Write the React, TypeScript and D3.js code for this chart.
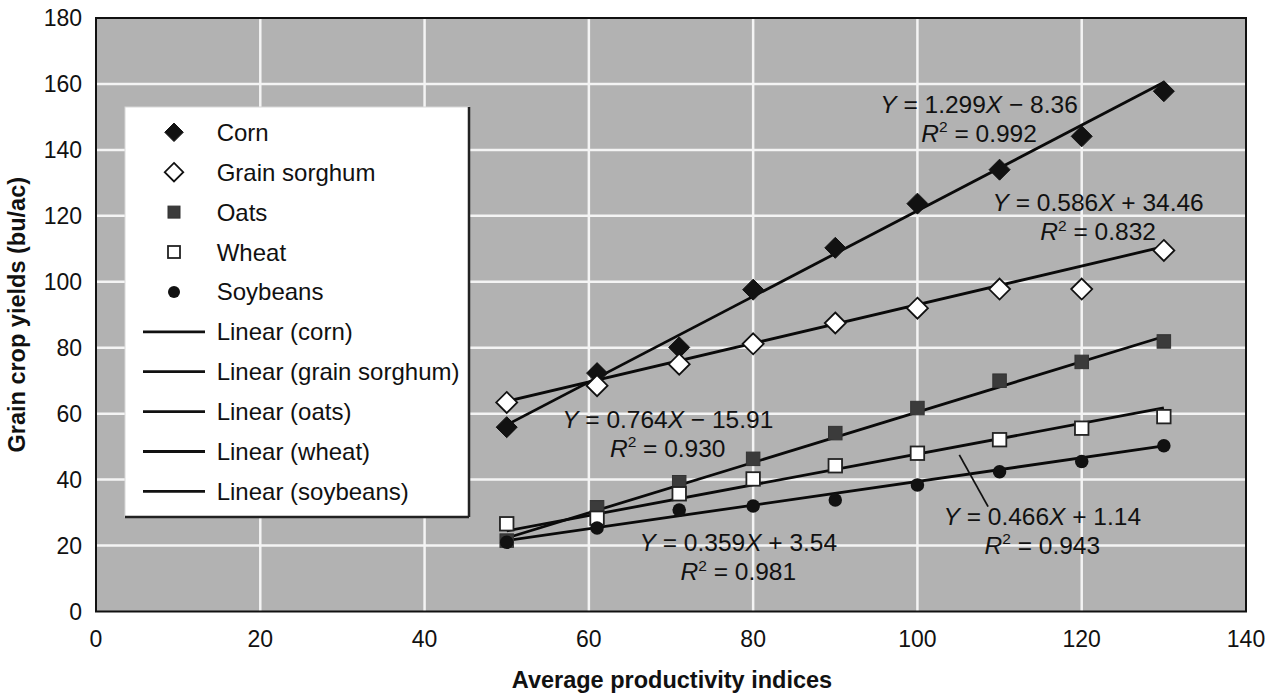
import React from "react";
import * as d3 from "d3";

const xValues = [50, 61, 71, 80, 90, 100, 110, 120, 130];
const corn = [55.9, 72.3, 80.1, 97.6, 110.3, 123.7, 134.0, 144.1, 157.8];
const sorghum = [63.4, 68.5, 75.0, 81.2, 87.5, 92.0, 97.8, 97.8, 109.5];
const oats = [21.5, 31.6, 39.2, 46.3, 54.1, 61.7, 70.0, 75.7, 81.9];
const wheat = [26.6, 28.3, 35.7, 40.2, 44.2, 48.0, 52.1, 55.6, 59.1];
const soybeans = [21.0, 25.3, 30.8, 32.0, 33.8, 38.4, 42.4, 45.5, 50.3];

const seriesNames = ["Corn", "Grain sorghum", "Oats", "Wheat", "Soybeans"];
const trendNames = ["Linear (corn)", "Linear (grain sorghum)", "Linear (oats)", "Linear (wheat)", "Linear (soybeans)"];
const slopes = [1.299, 0.586, 0.764, 0.466, 0.359];
const intercepts = [-8.36, 34.46, -15.91, 1.14, 3.54];
const r2Values = ["0.992", "0.832", "0.930", "0.943", "0.981"];
const eqTexts = ["1.299", "0.586", "0.764", "0.466", "0.359"];
const eqConsts = ["− 8.36", "+ 34.46", "− 15.91", "+ 1.14", "+ 3.54"];
const trendRange = [50, 130];

const xTicks = [0, 20, 40, 60, 80, 100, 120, 140];
const yTicks = [0, 20, 40, 60, 80, 100, 120, 140, 160, 180];

// label anchor points in data units (center x, baseline y of first line)
const labelX = [107.5, 122.0, 69.6, 115.2, 78.2];
const labelY = [151.3, 121.4, 55.7, 26.3, 18.2];
const leader = [[105.1, 47.5], [108.6, 31.8]];

const FONT = "'Liberation Sans', Arial, Helvetica, sans-serif";

type Kind = "diamondFill" | "diamondOpen" | "squareFill" | "squareOpen" | "circleFill";
const kinds: Kind[] = ["diamondFill", "diamondOpen", "squareFill", "squareOpen", "circleFill"];
const seriesData = [corn, sorghum, oats, wheat, soybeans];

function Marker({ kind, cx, cy, s }: { kind: Kind; cx: number; cy: number; s: number }) {
  if (kind === "diamondFill" || kind === "diamondOpen") {
    const r = s / 2;
    const p = `M${cx},${cy - r}L${cx + r},${cy}L${cx},${cy + r}L${cx - r},${cy}Z`;
    return kind === "diamondFill" ? (
      <path d={p} fill="#111" stroke="#111" strokeWidth={1} />
    ) : (
      <path d={p} fill="#fff" stroke="#111" strokeWidth={1.8} />
    );
  }
  if (kind === "squareFill" || kind === "squareOpen") {
    const h = s / 2;
    return kind === "squareFill" ? (
      <rect x={cx - h} y={cy - h} width={s} height={s} fill="#3b3b3b" stroke="#333" strokeWidth={1} />
    ) : (
      <rect x={cx - h} y={cy - h} width={s} height={s} fill="#fff" stroke="#222" strokeWidth={1.8} />
    );
  }
  return <circle cx={cx} cy={cy} r={s / 2} fill="#111" />;
}

export default function App() {
  const W = 1279;
  const H = 697;
  const x = d3.scaleLinear().domain([0, 140]).range([96, 1246]);
  const y = d3.scaleLinear().domain([0, 180]).range([611.5, 18]);

  const legendX = 125;
  const legendY = 107;
  const legendW = 344;
  const legendH = 410;
  const rowY0 = 132.3;
  const rowStep = 39.9;

  return (
    <div style={{ position: "fixed", left: 0, top: 0, width: W, height: H, background: "#fff" }}>
      <svg width={W} height={H} style={{ display: "block" }} fontFamily={FONT}>
        {/* plot background */}
        <rect x={x(0)} y={y(180)} width={x(140) - x(0)} height={y(0) - y(180)} fill="#b2b2b2" />
        {/* grid */}
        {xTicks.slice(1, -1).map((t) => (
          <line key={"gx" + t} x1={x(t)} x2={x(t)} y1={y(0)} y2={y(180)} stroke="#f4f4f4" strokeWidth={2.5} />
        ))}
        {yTicks.slice(1, -1).map((t) => (
          <line key={"gy" + t} x1={x(0)} x2={x(140)} y1={y(t)} y2={y(t)} stroke="#f4f4f4" strokeWidth={2.5} />
        ))}
        {/* frame */}
        <rect x={x(0)} y={y(180)} width={x(140) - x(0)} height={y(0) - y(180)} fill="none" stroke="#111" strokeWidth={2} />

        {/* ticks labels */}
        {xTicks.map((t) => (
          <text key={"xt" + t} x={x(t)} y={647} textAnchor="middle" fontSize={23} fill="#111">
            {t}
          </text>
        ))}
        {yTicks.map((t) => (
          <text key={"yt" + t} x={82} y={y(t) + 8} textAnchor="end" fontSize={23} fill="#111">
            {t}
          </text>
        ))}

        {/* axis titles */}
        <text x={672} y={688} textAnchor="middle" fontSize={23.5} fontWeight="bold" fill="#111">
          Average productivity indices
        </text>
        <text
          transform={`translate(25,${(y(0) + y(180)) / 2}) rotate(-90)`}
          textAnchor="middle"
          fontSize={23.5}
          fontWeight="bold"
          fill="#111"
        >
          Grain crop yields (bu/ac)
        </text>

        {/* trend lines */}
        {slopes.map((m, i) => (
          <line
            key={"tr" + i}
            x1={x(trendRange[0])}
            y1={y(m * trendRange[0] + intercepts[i])}
            x2={x(trendRange[1])}
            y2={y(m * trendRange[1] + intercepts[i])}
            stroke="#0a0a0a"
            strokeWidth={2.8}
          />
        ))}

        {/* markers */}
        {seriesData.map((vals, si) =>
          vals.map((v, i) => (
            <Marker
              key={`m${si}-${i}`}
              kind={kinds[si]}
              cx={x(xValues[i])}
              cy={y(v)}
              s={kinds[si].startsWith("diamond") ? 21 : 13.5}
            />
          ))
        )}

        {/* equation labels */}
        {slopes.map((_, i) => (
          <g key={"eq" + i} fontSize={24.5} fill="#111" textAnchor="middle">
            <text x={x(labelX[i])} y={y(labelY[i])}>
              <tspan fontStyle="italic">Y</tspan>
              <tspan>{" = " + eqTexts[i]}</tspan>
              <tspan fontStyle="italic">X</tspan>
              <tspan>{" " + eqConsts[i]}</tspan>
            </text>
            <text x={x(labelX[i])} y={y(labelY[i]) + 29}>
              <tspan fontStyle="italic">R</tspan>
              <tspan fontSize={15.5} dy={-9.5}>2</tspan>
              <tspan dy={9.5}>{" = " + r2Values[i]}</tspan>
            </text>
          </g>
        ))}
        <line
          x1={x(leader[0][0])}
          y1={y(leader[0][1])}
          x2={x(leader[1][0])}
          y2={y(leader[1][1])}
          stroke="#111"
          strokeWidth={1.8}
        />

        {/* legend */}
        <rect x={legendX} y={legendY} width={legendW} height={legendH} fill="#fff" stroke="#d8d8d8" strokeWidth={1} />
        <line x1={legendX + legendW} y1={legendY} x2={legendX + legendW} y2={legendY + legendH} stroke="#222" strokeWidth={2.5} />
        <line x1={legendX} y1={legendY + legendH} x2={legendX + legendW} y2={legendY + legendH} stroke="#222" strokeWidth={2.5} />
        {seriesNames.map((n, i) => (
          <g key={"lg" + i}>
            <Marker kind={kinds[i]} cx={174} cy={rowY0 + i * rowStep} s={kinds[i].startsWith("diamond") ? 18.5 : 12} />
            <text x={216.7} y={rowY0 + i * rowStep + 8.5} fontSize={24} fill="#111">
              {n}
            </text>
          </g>
        ))}
        {trendNames.map((n, j) => {
          const cy = rowY0 + (j + 5) * rowStep;
          return (
            <g key={"lt" + j}>
              <line x1={143} x2={205} y1={cy} y2={cy} stroke="#111" strokeWidth={2.8} />
              <text x={216.7} y={cy + 8.5} fontSize={24} fill="#111">
                {n}
              </text>
            </g>
          );
        })}
      </svg>
    </div>
  );
}
